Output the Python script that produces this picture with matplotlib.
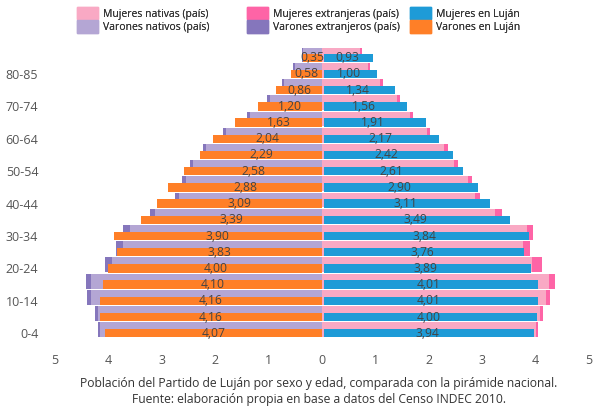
import numpy as np
import matplotlib.pyplot as plt
from matplotlib.patches import Patch

plt.rcParams['font.family'] = ['Open Sans', 'DejaVu Sans']

grupos = ['0-4', '5-9', '10-14', '15-19', '20-24', '25-29', '30-34', '35-39', '40-44',
          '45-49', '50-54', '55-59', '60-64', '65-69', '70-74', '75-79', '80-85', '85+']

# Lujan (%)
varones_lujan = [4.07, 4.16, 4.16, 4.10, 4.00, 3.83, 3.90, 3.39, 3.09,
                 2.88, 2.58, 2.29, 2.04, 1.63, 1.20, 0.86, 0.58, 0.35]
mujeres_lujan = [3.94, 4.00, 4.01, 4.01, 3.89, 3.76, 3.84, 3.49, 3.11,
                 2.90, 2.61, 2.42, 2.17, 1.91, 1.56, 1.34, 1.00, 0.93]

# pais (%), estimado de la figura
varones_nat = [4.15, 4.20, 4.33, 4.32, 3.94, 3.73, 3.60, 3.12, 2.67,
               2.55, 2.41, 2.17, 1.80, 1.35, 0.98, 0.71, 0.51, 0.35]
varones_ext = [0.04, 0.05, 0.07, 0.10, 0.12, 0.12, 0.12, 0.10, 0.08,
               0.07, 0.06, 0.06, 0.05, 0.05, 0.05, 0.04, 0.03, 0.02]
mujeres_nat = [4.00, 4.09, 4.20, 4.26, 3.94, 3.77, 3.83, 3.24, 2.86,
               2.73, 2.48, 2.29, 1.96, 1.64, 1.40, 1.09, 0.86, 0.72]
mujeres_ext = [0.04, 0.05, 0.07, 0.10, 0.18, 0.13, 0.12, 0.13, 0.10,
               0.08, 0.07, 0.07, 0.06, 0.06, 0.06, 0.05, 0.04, 0.03]

c_muj_nat = '#f9a9c4'
c_var_nat = '#b4a6d4'
c_muj_ext = '#fe64a6'
c_var_ext = '#8576bc'
c_muj_luj = '#1e9bd7'
c_var_luj = '#ff7f27'

y = np.arange(len(grupos))
vn = np.array(varones_nat)
ve = np.array(varones_ext)
mn = np.array(mujeres_nat)
me = np.array(mujeres_ext)
vl = np.array(varones_lujan)
ml = np.array(mujeres_lujan)

fig = plt.figure(figsize=(6, 4.2), dpi=100)
ax = fig.add_axes([55 / 600, 1 - 343 / 420, 534 / 600, 295 / 420])

yo = y + 0.22
h_pais = 0.92
ax.barh(yo, -vn, height=h_pais, color=c_var_nat, zorder=1)
ax.barh(yo, -ve, left=-vn, height=h_pais, color=c_var_ext, zorder=1)
ax.barh(yo, mn, height=h_pais, color=c_muj_nat, zorder=1)
ax.barh(yo, me, left=mn, height=h_pais, color=c_muj_ext, zorder=1)

ax.barh(y, -vl, height=0.52, color=c_var_luj, zorder=2)
ax.barh(y, ml, left=0.03, height=0.52, color=c_muj_luj, zorder=2)

for i in range(len(grupos)):
    ax.text(-vl[i] / 2, y[i], f'{vl[i]:.2f}'.replace('.', ','), ha='center', va='center',
            fontsize=8.7, color='#444444', zorder=3)
    ax.text(ml[i] / 2, y[i], f'{ml[i]:.2f}'.replace('.', ','), ha='center', va='center',
            fontsize=8.7, color='#444444', zorder=3)

ax.set_xlim(-5, 5)
ax.set_ylim(-0.6, 17.6)
ax.set_xticks(range(-5, 6))
ax.set_xticklabels([str(abs(v)) for v in range(-5, 6)])
ax.set_yticks(y[::2])
ax.set_yticklabels(grupos[::2])
ax.tick_params(length=0, labelsize=9, colors='#555555')
ax.tick_params(axis='x', pad=8)
ax.tick_params(axis='y', pad=12)
for s in ax.spines.values():
    s.set_visible(False)

# leyenda en tres bloques, como en el original
bloques = [
    ([c_muj_nat, c_var_nat], ['Mujeres nativas (país)', 'Varones nativos (país)'], 77),
    ([c_muj_ext, c_var_ext], ['Mujeres extranjeras (país)', 'Varones extranjeros (país)'], 247),
    ([c_muj_luj, c_var_luj], ['Mujeres en Luján', 'Varones en Luján'], 410),
]
for colores, textos, x0 in bloques:
    leg = fig.legend([Patch(color=c) for c in colores], textos, loc='upper left',
                     bbox_to_anchor=(x0 / 600, 1 - 7 / 420), frameon=False, fontsize=7.5,
                     handlelength=2.0, handleheight=1.45, handletextpad=0.5,
                     labelspacing=0.08, borderaxespad=0, borderpad=0)
    for t in leg.get_texts():
        t.set_color('#333333')
    fig.add_artist(leg)

fig.text(319 / 600, 1 - 384 / 420, 'Población del Partido de Luján por sexo y edad, comparada con la pirámide nacional.',
         ha='center', va='center', fontsize=8.7, color='#333333')
fig.text(319 / 600, 1 - 399 / 420, 'Fuente: elaboración propia en base a datos del Censo INDEC 2010.',
         ha='center', va='center', fontsize=8.7, color='#333333')

fig.savefig('out.png', dpi=100)
